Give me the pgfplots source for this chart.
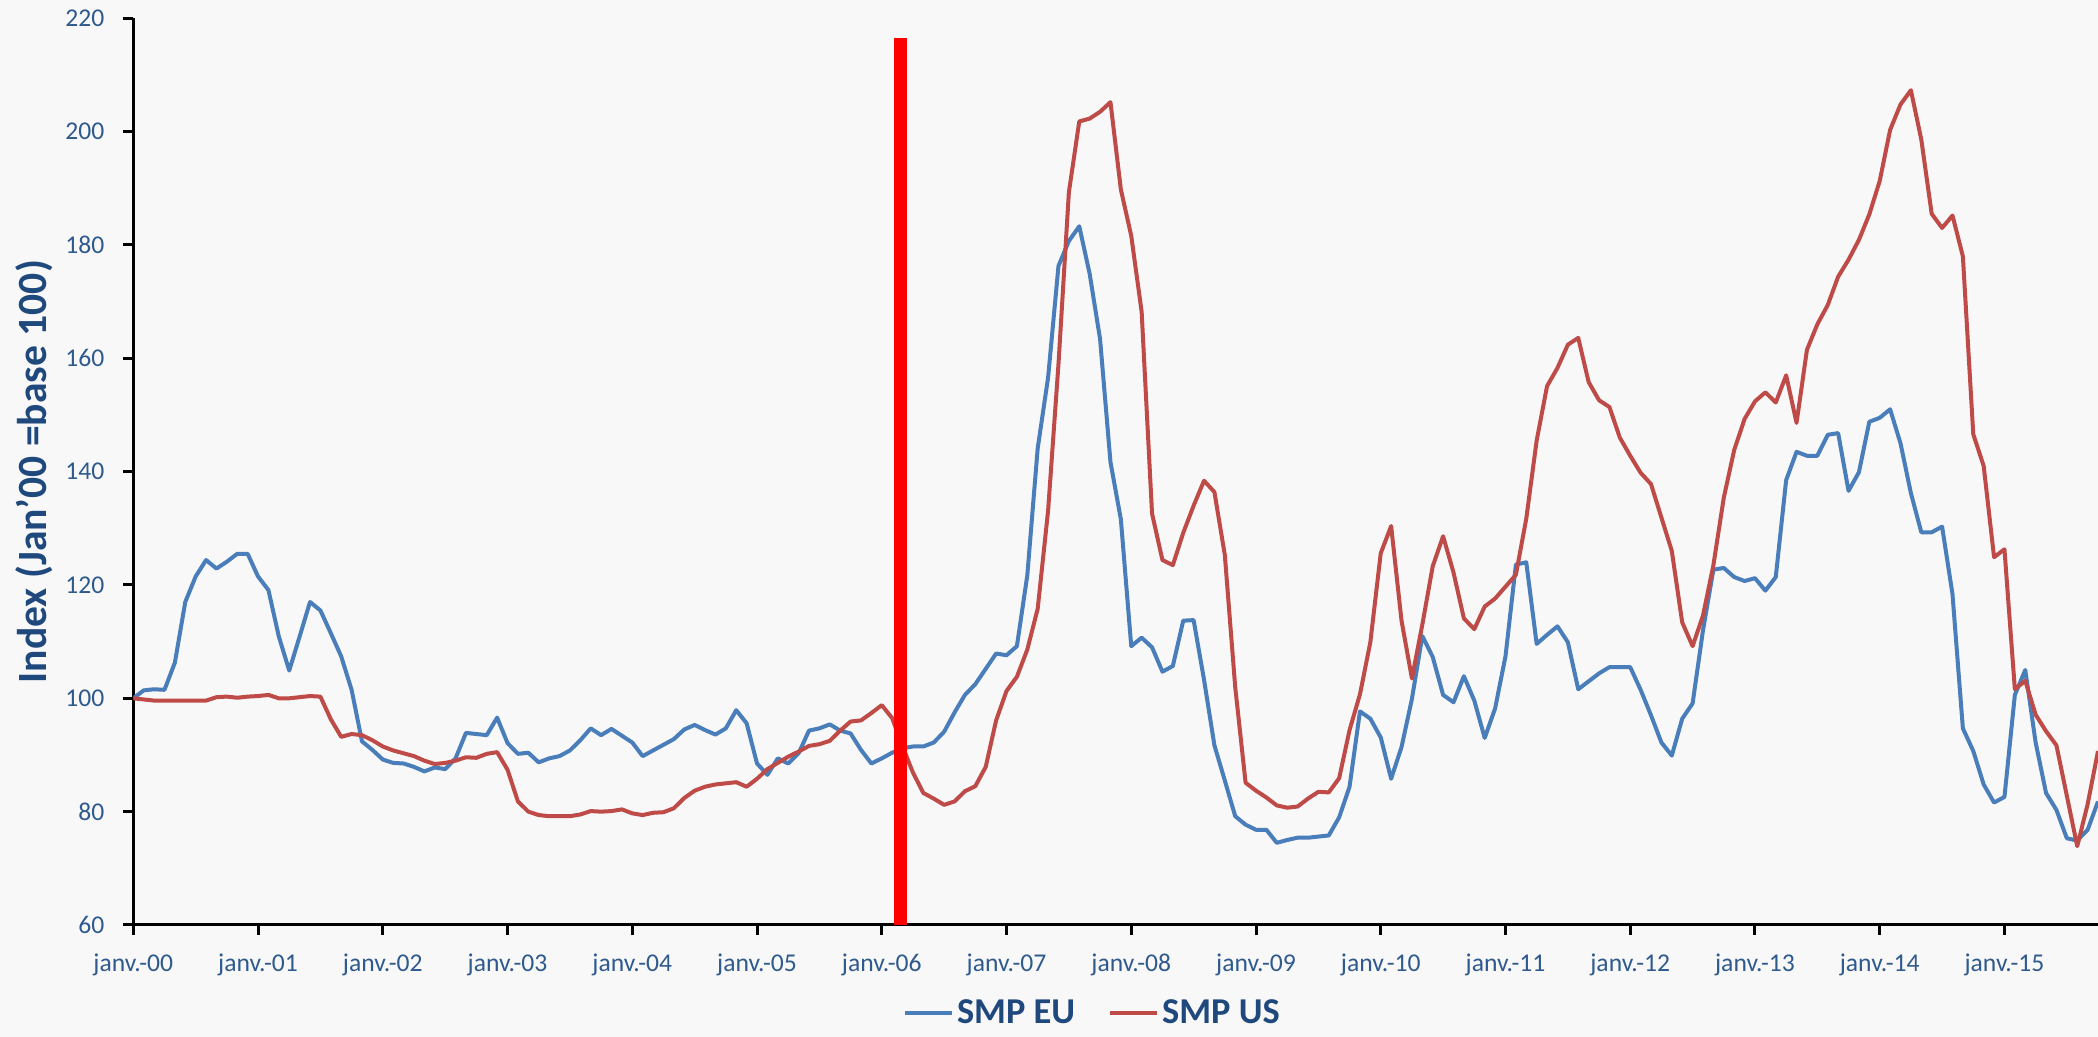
\documentclass[border=0pt]{standalone}
\usepackage{fontspec}
\setmainfont{Carlito}
\usepackage{pgfplots}
\pgfplotsset{compat=1.18}
\definecolor{bg}{HTML}{F8F8F8}
\definecolor{eu}{HTML}{4A7EBB}
\definecolor{us}{HTML}{BE4B48}
\definecolor{txt}{HTML}{1F497D}
\definecolor{tickc}{HTML}{2F5A8E}
\begin{document}
\begin{tikzpicture}
\path[use as bounding box] (0,0) rectangle (1049pt,518.5pt);
\fill[bg] (0,0) rectangle (1049pt,518.5pt);
\begin{axis}[
  at={(66.65pt,56pt)}, anchor=south west,
  scale only axis, width=982.35pt, height=453.35pt,
  xmin=0, xmax=189, ymin=60, ymax=220,
  axis x line=bottom, axis y line=left,
  axis line style={-, black, line width=1.5pt},
  xtick={0,12,...,180},
  xticklabels={janv.-00,janv.-01,janv.-02,janv.-03,janv.-04,janv.-05,janv.-06,janv.-07,janv.-08,janv.-09,janv.-10,janv.-11,janv.-12,janv.-13,janv.-14,janv.-15},
  ytick={60,80,...,220},
  tick align=outside, major tick length=5pt,
  tick style={black, line width=1.5pt},
  /pgf/number format/assume math mode=true,
  ticklabel style={font=\fontsize{12.8}{15}\selectfont, text=tickc},
  xticklabel style={yshift=-6pt},
  yticklabel style={xshift=-6pt},
  ylabel={Index (Jan'00 =base 100)},
  every axis y label/.style={at={(axis description cs:-0.0504,0.5)}, rotate=90, anchor=center, font=\bfseries\fontsize{20.8}{24}\selectfont, text=txt},
  legend columns=2,
  legend style={at={(0.4884,-0.097)}, anchor=center, draw=none, fill=none,
    font=\bfseries\fontsize{18.2}{20}\selectfont, text=txt,
    nodes={inner xsep=1.5pt, inner ysep=0pt},
    /tikz/every even column/.append style={column sep=15pt}},
  legend image code/.code={\draw[#1] (0pt,0pt) -- (23.5pt,0pt);},
  clip=true,
]
\addplot[eu, line width=2pt, line join=round] table {
0 100
1 101.4
2 101.6
3 101.5
4 106.3
5 117
6 121.5
7 124.4
8 122.9
9 124.1
10 125.5
11 125.5
12 121.5
13 119.1
14 110.9
15 104.9
16 110.9
17 117
18 115.5
19 111.5
20 107.4
21 101.5
22 92.4
23 90.9
24 89.2
25 88.6
26 88.5
27 87.9
28 87.1
29 87.8
30 87.5
31 89.4
32 93.9
33 93.7
34 93.5
35 96.6
36 92.1
37 90.2
38 90.4
39 88.7
40 89.4
41 89.8
42 90.8
43 92.6
44 94.7
45 93.5
46 94.6
47 93.4
48 92.2
49 89.8
50 90.8
51 91.8
52 92.8
53 94.5
54 95.3
55 94.4
56 93.6
57 94.7
58 97.9
59 95.6
60 88.5
61 86.5
62 89.4
63 88.5
64 90.3
65 94.3
66 94.7
67 95.4
68 94.3
69 93.8
70 90.9
71 88.5
72 89.4
73 90.4
74 91.2
75 91.5
76 91.5
77 92.2
78 94.1
79 97.5
80 100.6
81 102.5
82 105.2
83 107.9
84 107.6
85 109.2
86 121.7
87 144.1
88 156.6
89 176.3
90 180.7
91 183.3
92 174.9
93 163.4
94 141.7
95 131.6
96 109.2
97 110.7
98 109
99 104.7
100 105.7
101 113.7
102 113.8
103 103.3
104 91.7
105 85.5
106 79.2
107 77.7
108 76.8
109 76.8
110 74.5
111 75
112 75.4
113 75.4
114 75.6
115 75.8
116 79
117 84.4
118 97.7
119 96.4
120 93.1
121 85.8
122 91.4
123 99.9
124 111
125 107.3
126 100.6
127 99.3
128 103.9
129 99.6
130 93
131 98.2
132 107.4
133 123.6
134 124
135 109.6
136 111.2
137 112.7
138 109.9
139 101.6
140 103
141 104.4
142 105.5
143 105.5
144 105.5
145 101.5
146 97
147 92.2
148 89.9
149 96.4
150 99.1
151 112
152 122.7
153 123
154 121.4
155 120.7
156 121.2
157 119
158 121.4
159 138.5
160 143.5
161 142.8
162 142.8
163 146.5
164 146.8
165 136.6
166 139.9
167 148.8
168 149.5
169 151
170 145
171 136.2
172 129.3
173 129.3
174 130.3
175 118.4
176 94.7
177 90.7
178 84.8
179 81.6
180 82.6
181 100.6
182 105
183 92.2
184 83.3
185 80.3
186 75.3
187 74.9
188 76.8
189 81.8
};
\addlegendentry{SMP EU}
\addplot[us, line width=2pt, line join=round] table {
0 100
1 99.8
2 99.6
3 99.6
4 99.6
5 99.6
6 99.6
7 99.6
8 100.2
9 100.3
10 100.1
11 100.3
12 100.4
13 100.6
14 100
15 100
16 100.2
17 100.4
18 100.3
19 96.3
20 93.2
21 93.7
22 93.5
23 92.6
24 91.5
25 90.8
26 90.3
27 89.8
28 89
29 88.4
30 88.6
31 89
32 89.6
33 89.5
34 90.2
35 90.5
36 87.4
37 81.8
38 80
39 79.4
40 79.2
41 79.2
42 79.2
43 79.5
44 80.1
45 80
46 80.1
47 80.4
48 79.7
49 79.4
50 79.8
51 79.9
52 80.6
53 82.4
54 83.7
55 84.4
56 84.8
57 85
58 85.2
59 84.4
60 85.8
61 87.5
62 88.6
63 89.7
64 90.6
65 91.6
66 91.9
67 92.5
68 94.3
69 95.9
70 96.1
71 97.4
72 98.8
73 96.5
74 91.5
75 86.9
76 83.3
77 82.3
78 81.2
79 81.8
80 83.6
81 84.5
82 87.9
83 96.1
84 101.3
85 103.8
86 108.6
87 115.8
88 133.1
89 159
90 189.3
91 201.8
92 202.3
93 203.5
94 205.2
95 189.8
96 181.6
97 168.2
98 132.6
99 124.4
100 123.5
101 129.2
102 134
103 138.4
104 136.4
105 125.3
106 102
107 85.1
108 83.7
109 82.5
110 81.1
111 80.7
112 80.9
113 82.3
114 83.5
115 83.4
116 85.9
117 94.4
118 100.7
119 109.9
120 125.6
121 130.4
122 113.7
123 103.5
124 113
125 123.3
126 128.6
127 122.2
128 114.1
129 112.2
130 116.2
131 117.6
132 119.7
133 121.8
134 131.7
135 145.5
136 155.1
137 158.3
138 162.4
139 163.6
140 155.8
141 152.6
142 151.4
143 146
144 142.8
145 139.8
146 137.8
147 131.9
148 126
149 113.4
150 109.2
151 114.6
152 123.5
153 135.4
154 143.8
155 149.3
156 152.4
157 154
158 152.2
159 157
160 148.6
161 161.5
162 166
163 169.4
164 174.4
165 177.4
166 180.9
167 185.4
168 191.3
169 200.3
170 204.8
171 207.3
172 198.6
173 185.5
174 183
175 185.2
176 178
177 146.6
178 141
179 124.9
180 126.3
181 101.6
182 103.1
183 97.1
184 94.2
185 91.7
186 82.8
187 73.9
188 81.3
189 90.7
};
\addlegendentry{SMP US}
\addplot[color=red, line width=6.5pt, forget plot] coordinates {(73.8,60) (73.8,216.6)};
\end{axis}
\end{tikzpicture}
\end{document}
